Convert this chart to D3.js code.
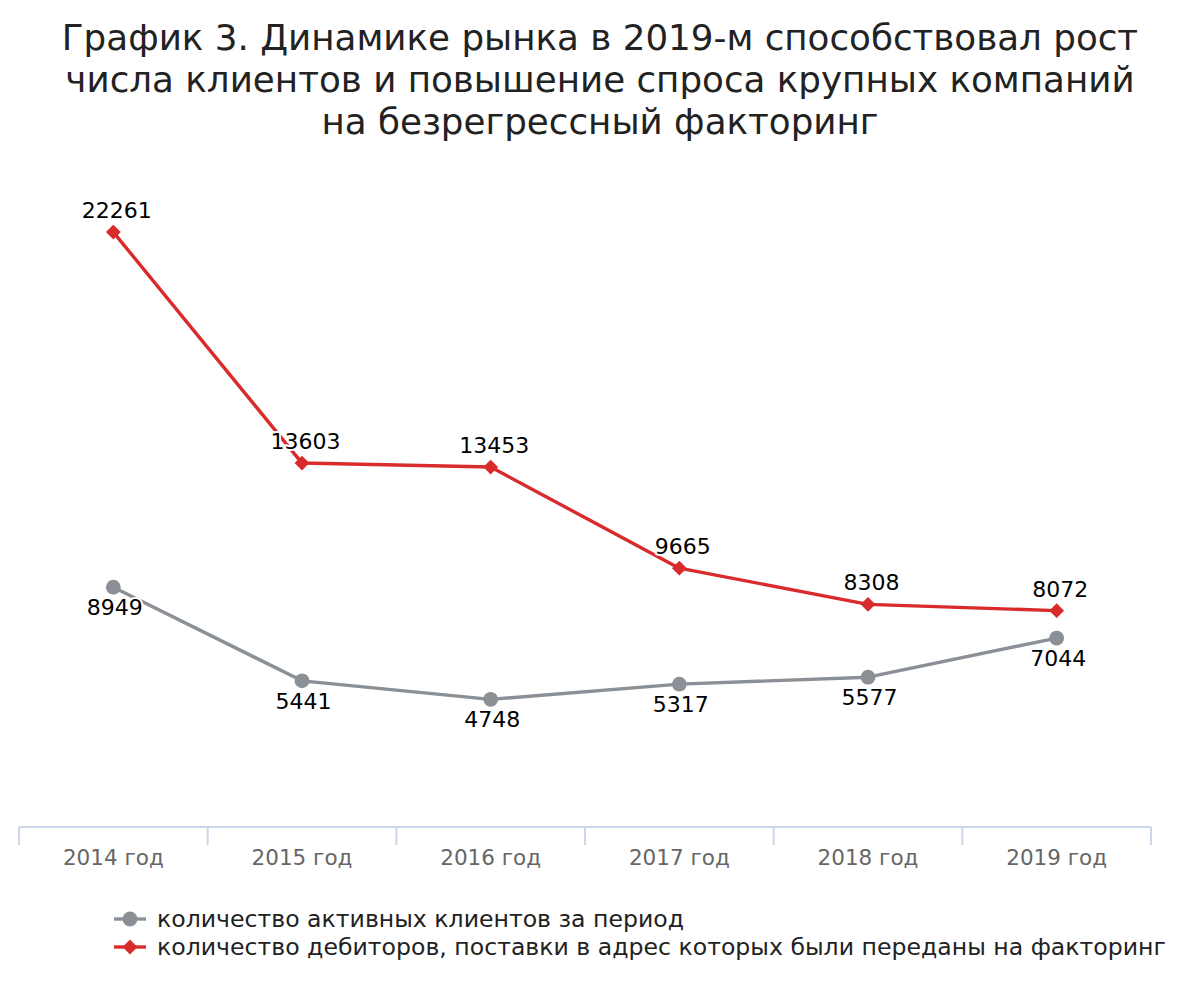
<!DOCTYPE html>
<html><head><meta charset="utf-8">
<script src="https://cdn.jsdelivr.net/npm/d3@7"></script>
<style>
body{margin:0;background:#fff;}
svg{display:block;font-family:"DejaVu Sans",sans-serif;}
</style></head>
<body>
<svg id="c" width="1200" height="1000"></svg>
<script>
const titleLines = ["График 3. Динамике рынка в 2019-м способствовал рост","числа клиентов и повышение спроса крупных компаний","на безрегрессный факторинг"];
const categories = ["2014 год","2015 год","2016 год","2017 год","2018 год","2019 год"];
const clients = [8949,5441,4748,5317,5577,7044];
const debtors = [22261,13603,13453,9665,8308,8072];
const seriesNames = ["количество активных клиентов за период","количество дебиторов, поставки в адрес которых были переданы на факторинг"];
const colors = ["#8a9096","#d92b2c"];

const svg = d3.select("#c");
svg.append("rect").attr("width",1200).attr("height",1000).attr("fill","#fff");

const title = svg.append("text").attr("text-anchor","middle").attr("fill","#222").style("font-size","35.7px");
titleLines.forEach((t,i)=>title.append("tspan").attr("x",600).attr("y",50+i*42).text(t));

const x = d3.scaleBand().domain(categories).range([19,1151]);
const y = d3.scaleLinear().domain([0,25000]).range([826,159]);

const axisG = svg.append("g").attr("transform","translate(0,827)");
axisG.append("line").attr("x1",19).attr("x2",1151).attr("stroke","#ccd6eb").attr("stroke-width",2);
const ticks = categories.map(c=>x(c)).concat([x(categories[categories.length-1])+x.bandwidth()]);
axisG.selectAll("line.t").data(ticks).join("line").attr("class","t")
  .attr("x1",d=>d).attr("x2",d=>d).attr("y1",0).attr("y2",18).attr("stroke","#ccd6eb").attr("stroke-width",2);
axisG.selectAll("text").data(categories).join("text")
  .attr("x",d=>x(d)+x.bandwidth()/2).attr("y",37.5).attr("text-anchor","middle")
  .attr("fill","#666").style("font-size","21.5px").text(d=>d);

const cx = (d,i)=>x(categories[i])+x.bandwidth()/2;
const line = d3.line().x((d,i)=>cx(d,i)).y(d=>y(d));
const diamond = d3.symbol(d3.symbolDiamond2,140)();

function drawSeries(data,color,marker,labelPos,dx){
  svg.append("path").datum(data).attr("d",line).attr("fill","none").attr("stroke",color).attr("stroke-width",3.4).attr("stroke-linejoin","round");
  const g = svg.append("g");
  data.forEach((d,i)=>{
    if(marker==="circle"){
      g.append("circle").attr("cx",cx(d,i)).attr("cy",y(d)).attr("r",7.4).attr("fill",color);
    } else {
      g.append("path").attr("d",diamond).attr("transform",`translate(${cx(d,i)},${y(d)})`).attr("fill",color);
    }
  });
  const lg = svg.append("g");
  data.forEach((d,i)=>{
    lg.append("text").attr("x",cx(d,i)+dx).attr("y",y(d)+(labelPos==="above"?-14:28))
      .attr("text-anchor","middle").attr("fill","#000").style("font-size","22px")
      .attr("stroke","#fff").attr("stroke-width",4).attr("stroke-linejoin","round").attr("paint-order","stroke")
      .text(d);
  });
}
drawSeries(clients,colors[0],"circle","below",1.5);
drawSeries(debtors,colors[1],"diamond","above",3.5);

const leg = svg.append("g");
seriesNames.forEach((n,i)=>{
  const yy = 919+i*28;
  leg.append("line").attr("x1",114).attr("x2",146).attr("y1",yy).attr("y2",yy).attr("stroke",colors[i]).attr("stroke-width",3.4);
  if(i===0) leg.append("circle").attr("cx",130).attr("cy",yy).attr("r",7.4).attr("fill",colors[i]);
  else leg.append("path").attr("d",diamond).attr("transform",`translate(130,${yy})`).attr("fill",colors[i]);
  leg.append("text").attr("x",157).attr("y",yy+8).attr("fill","#222").style("font-size","23.6px").text(n);
});
</script>
</body></html>
